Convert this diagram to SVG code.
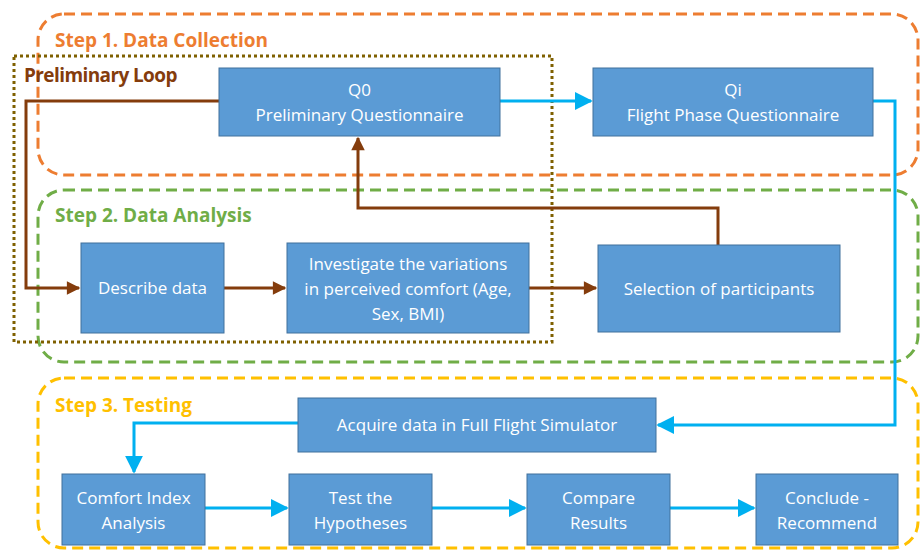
<svg xmlns="http://www.w3.org/2000/svg" width="921" height="550" viewBox="0 0 921 550">
<defs>
<style>
.box{fill:#5B9BD5;stroke:#41719C;stroke-width:1}
.t{font-family:"Open Sans","Liberation Sans",Arial,sans-serif;font-size:17px;fill:#fff;text-anchor:middle}
.h{font-family:"Open Sans","Liberation Sans",sans-serif;font-size:19px;font-weight:bold}
.grp{fill:none;stroke-width:3;stroke-dasharray:11 6}
.blue{fill:none;stroke:#00B0F0;stroke-width:3}
.brown{fill:none;stroke:#843C0C;stroke-width:3}
</style>
<marker id="ab" viewBox="0 0 10 10" refX="9" refY="5" markerWidth="6" markerHeight="6" orient="auto" markerUnits="strokeWidth"><path d="M0,0 L10,5 L0,10 z" fill="#00B0F0"/></marker>
<marker id="ar" viewBox="0 0 10 10" refX="9" refY="5" markerWidth="5.5" markerHeight="4.5" orient="auto" markerUnits="strokeWidth"><path d="M0,0 L10,5 L0,10 z" fill="#843C0C"/></marker>
</defs>
<rect width="921" height="550" fill="#fff"/>
<g id="groups">
<rect x="38" y="14" width="880" height="161" rx="26" class="grp" stroke="#ED7D31"/>
<rect x="38" y="190" width="880" height="172" rx="26" class="grp" stroke="#70AD47"/>
<rect x="38" y="378" width="880" height="170" rx="26" class="grp" stroke="#FFC000"/>
<rect x="14" y="56" width="538" height="286" fill="none" stroke="#7F6000" stroke-width="3" stroke-dasharray="3 3"/>
<text x="55" y="47" class="h" fill="#ED7D31">Step 1. Data Collection</text>
<text x="24" y="82" class="h" fill="#843C0C" letter-spacing="-0.6">Preliminary Loop</text>
<text x="55" y="222" class="h" fill="#70AD47">Step 2. Data Analysis</text>
<text x="55" y="412" class="h" fill="#FFC000">Step 3. Testing</text>
</g>
<g id="connectors">
<path class="blue" d="M500,101 H591" marker-end="url(#ab)"/>
<path class="blue" d="M873,101 H895 V425 H658" marker-end="url(#ab)"/>
<path class="blue" d="M298,423 H134 V472" marker-end="url(#ab)"/>
<path class="blue" d="M205,508 H287" marker-end="url(#ab)"/>
<path class="blue" d="M432,508 H525" marker-end="url(#ab)"/>
<path class="blue" d="M670,508 H754" marker-end="url(#ab)"/>
<path class="brown" d="M219,101 H26 V288 H79" marker-end="url(#ar)"/>
<path class="brown" d="M224,288 H285" marker-end="url(#ar)"/>
<path class="brown" d="M529,288 H596" marker-end="url(#ar)"/>
<path class="brown" d="M718,245 V208 H358 V138" marker-end="url(#ar)"/>
</g>
<g id="q0"><rect x="219" y="68" width="281" height="68" class="box"/><text x="359.5" y="96" class="t">Q0</text><text x="359.5" y="121" class="t">Preliminary Questionnaire</text></g>
<g id="qi"><rect x="593" y="68" width="280" height="68" class="box"/><text x="733" y="96" class="t">Qi</text><text x="733" y="121" class="t">Flight Phase Questionnaire</text></g>
<g id="describe"><rect x="81" y="243" width="143" height="90" class="box"/><text x="152.5" y="294" class="t">Describe data</text></g>
<g id="investigate"><rect x="287" y="243" width="242" height="90" class="box"/><text x="408" y="270" class="t">Investigate the variations</text><text x="408" y="295" class="t">in perceived comfort (Age,</text><text x="408" y="320" class="t">Sex, BMI)</text></g>
<g id="selection"><rect x="598" y="245" width="242" height="87" class="box"/><text x="719" y="295" class="t">Selection of participants</text></g>
<g id="acquire"><rect x="298" y="398" width="358" height="54" class="box"/><text x="477" y="431" class="t">Acquire data in Full Flight Simulator</text></g>
<g id="comfort"><rect x="62" y="474" width="143" height="71" class="box"/><text x="133.5" y="504" class="t">Comfort Index</text><text x="133.5" y="529" class="t">Analysis</text></g>
<g id="test"><rect x="289" y="474" width="143" height="71" class="box"/><text x="360.5" y="504" class="t">Test the</text><text x="360.5" y="529" class="t">Hypotheses</text></g>
<g id="compare"><rect x="527" y="474" width="143" height="71" class="box"/><text x="598.5" y="504" class="t">Compare</text><text x="598.5" y="529" class="t">Results</text></g>
<g id="conclude"><rect x="756" y="474" width="142" height="71" class="box"/><text x="827" y="504" class="t">Conclude -</text><text x="827" y="529" class="t">Recommend</text></g>
</svg>
